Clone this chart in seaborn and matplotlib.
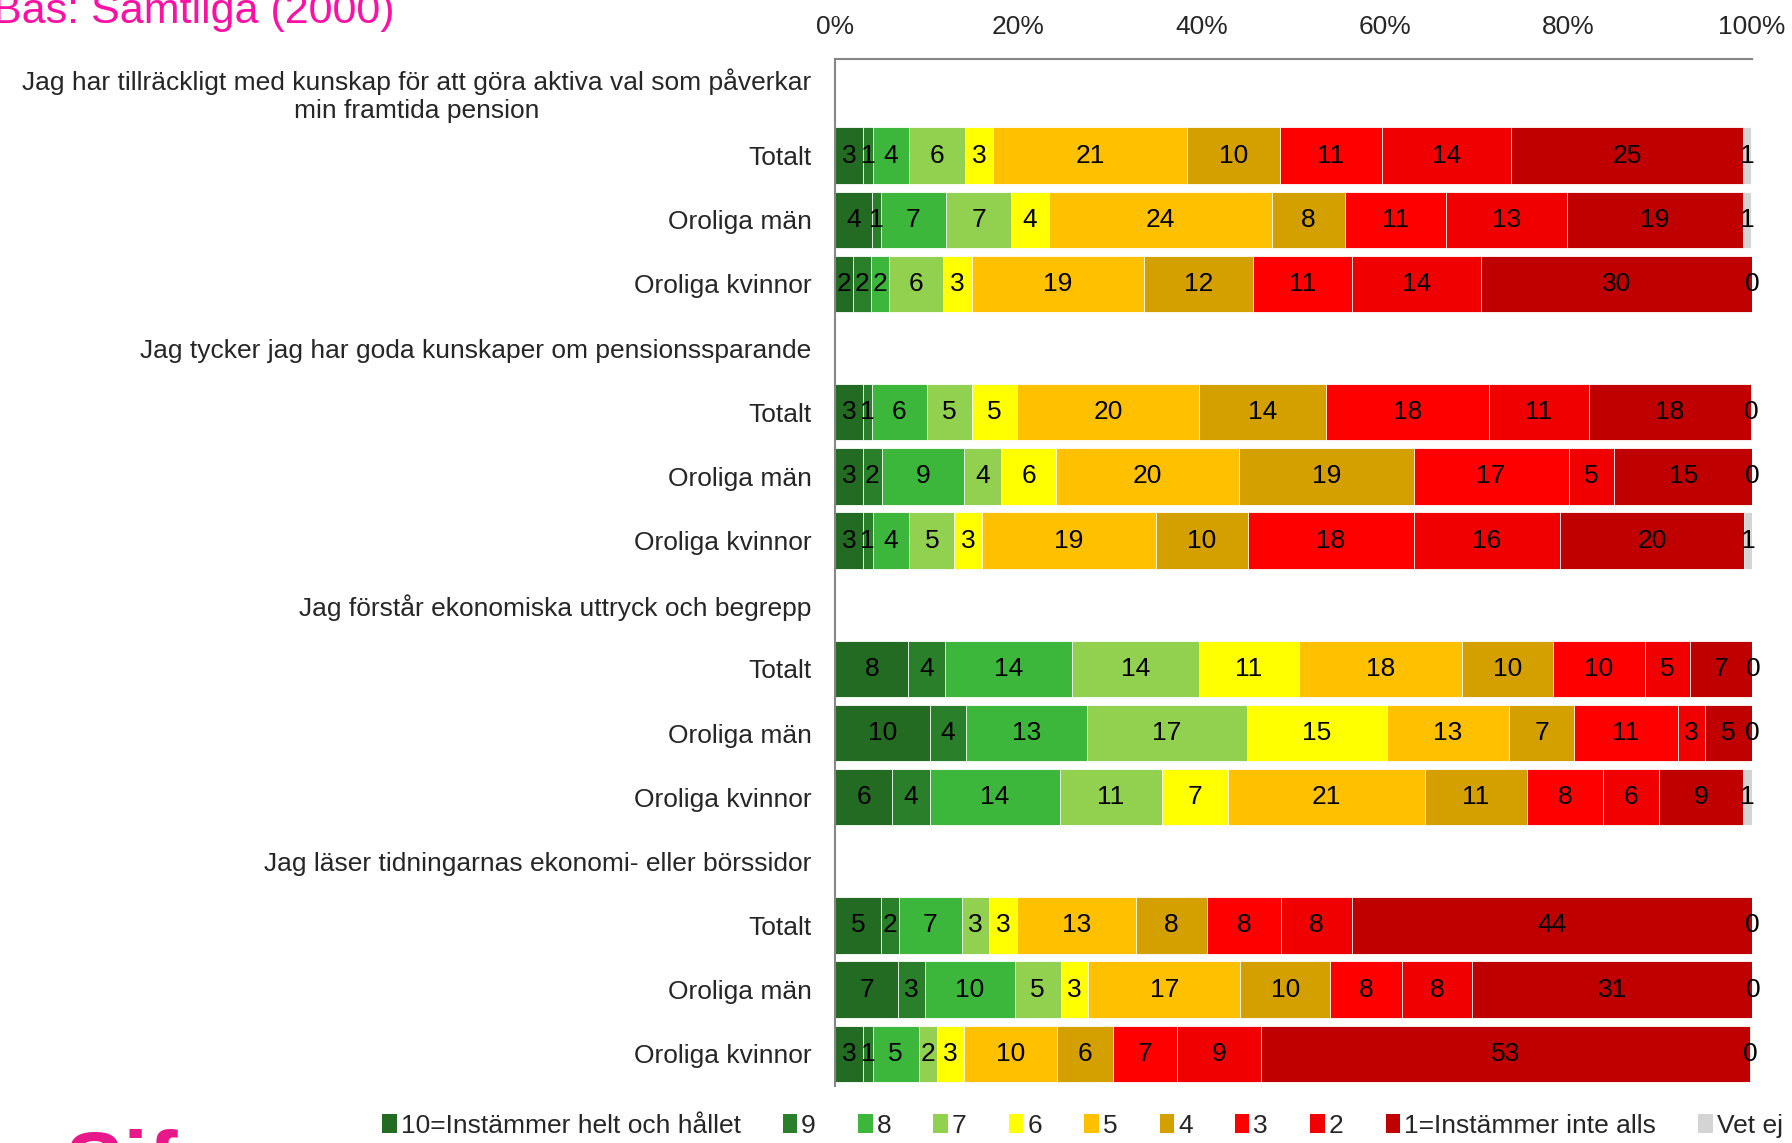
import matplotlib.pyplot as plt
import seaborn as sns
import pandas as pd
import numpy as np
from matplotlib.patches import Patch
from matplotlib.ticker import FixedLocator

fragor = [
    "Jag har tillräckligt med kunskap för att göra aktiva val som påverkar\nmin framtida pension",
    "Jag tycker jag har goda kunskaper om pensionssparande",
    "Jag förstår ekonomiska uttryck och begrepp",
    "Jag läser tidningarnas ekonomi- eller börssidor",
]
grupper = ["Totalt", "Oroliga män", "Oroliga kvinnor"]

svar = ["10=Instämmer helt och hållet", "9", "8", "7", "6", "5", "4", "3", "2",
        "1=Instämmer inte alls", "Vet ej"]
farger = ["#236B23", "#2A7F2A", "#3CB73C", "#92D050", "#FFFF00", "#FFC000",
          "#D3A000", "#FF0000", "#F00000", "#C00000", "#D4D4D4"]

# andelar i procent, en rad per fråga/grupp (12 staplar uppifrån och ned)
v10 = [3.1, 4.0, 2.0, 3.0, 3.0, 3.0, 8.0, 10.3, 6.2, 5.0, 6.9, 3.1]
v9 = [1.0, 1.0, 1.9, 1.0, 2.1, 1.1, 4.0, 4.0, 4.1, 2.0, 2.9, 1.0]
v8 = [4.0, 7.1, 2.0, 6.0, 9.0, 4.0, 13.8, 13.2, 14.2, 6.8, 9.8, 5.0]
v7 = [6.1, 7.1, 5.9, 4.9, 4.0, 4.9, 13.9, 17.4, 11.2, 3.0, 5.0, 2.0]
v6 = [3.0, 4.1, 3.1, 4.9, 6.0, 3.0, 10.9, 15.3, 7.2, 3.0, 3.0, 3.0]
v5 = [21.2, 24.3, 18.8, 19.9, 20.0, 19.0, 17.8, 13.3, 21.4, 13.0, 16.6, 10.1]
v4 = [10.1, 8.0, 11.9, 13.8, 19.0, 10.0, 9.9, 7.1, 11.2, 7.8, 9.8, 6.1]
v3 = [11.1, 11.0, 10.8, 17.8, 16.9, 18.1, 10.0, 11.3, 8.2, 8.0, 7.8, 7.0]
v2 = [14.1, 13.2, 14.0, 10.9, 5.0, 16.0, 4.9, 3.0, 6.1, 7.8, 7.7, 9.1]
v1 = [25.3, 19.2, 29.6, 17.7, 15.0, 20.0, 6.9, 5.1, 9.2, 43.6, 30.6, 53.4]
vet_ej = [0.9, 0.9, 0.0, 0.0, 0.0, 0.9, 0.0, 0.0, 1.0, 0.0, 0.0, 0.0]

varden = [v10, v9, v8, v7, v6, v5, v4, v3, v2, v1, vet_ej]

# radordning: rubrikrad + tre grupper per fråga
order, etiketter, stapelrader = [], [], []
for q, fraga in enumerate(fragor):
    order.append(f"q{q}")
    etiketter.append(fraga)
    for g in grupper:
        order.append(f"q{q}_{g}")
        etiketter.append(g)
        stapelrader.append(f"q{q}_{g}")

rows = []
for s, vals in zip(svar, varden):
    for rad, v in zip(stapelrader, vals):
        rows.append({"rad": rad, "svar": s, "andel": v})
df = pd.DataFrame(rows)
df["svar"] = pd.Categorical(df["svar"], categories=svar, ordered=True)
df = df.sort_values(["rad", "svar"])
df["kum"] = df.groupby("rad")["andel"].cumsum()

sns.set_style("white")
plt.rcParams["font.family"] = ["Liberation Sans", "DejaVu Sans"]

fig = plt.figure(figsize=(17.92, 11.43), dpi=100)
ax = fig.add_axes([0.466, 0.05, 0.5117, 0.898])

for i in reversed(range(len(svar))):
    sub = df[df["svar"] == svar[i]]
    sns.barplot(data=sub, x="kum", y="rad", order=order, orient="h",
                color=farger[i], saturation=1, width=0.88, errorbar=None,
                edgecolor="white", linewidth=0.6, ax=ax)

for _, r in df.iterrows():
    ax.text(r["kum"] - r["andel"] / 2, order.index(r["rad"]), f"{r['andel']:.0f}",
            ha="center", va="center", fontsize=19, color="black")

ax.set_xlim(0, 100)
ax.set_ylim(len(order) - 0.5, -0.5)
ax.xaxis.tick_top()
ax.set_xticks(range(0, 101, 20))
ax.set_xticklabels([f"{t}%" for t in range(0, 101, 20)], fontsize=19)
ax.tick_params(axis="x", length=8, width=1.2, color="#868686", pad=6.5, direction="out")
ax.set_xlabel("")
ax.set_ylabel("")

ax.set_yticks(range(len(order)))
ax.set_yticklabels(etiketter, fontsize=19)
for lbl in ax.get_yticklabels():
    lbl.set_multialignment("center")
ax.tick_params(axis="y", which="major", length=0, pad=17)
ax.yaxis.set_minor_locator(FixedLocator(np.arange(-0.5, len(order), 1)))
ax.tick_params(axis="y", which="minor", length=6, width=1.2, color="#868686")

sns.despine(ax=ax, top=False, right=True, left=False, bottom=True)
for side in ["top", "left"]:
    ax.spines[side].set_color("#868686")
    ax.spines[side].set_linewidth(1.5)

fig.text(-0.004, 0.980, "Bas: Samtliga (2000)", color="#FF10A5", fontsize=31,
         ha="left", va="baseline")
fig.text(0.036, 0.012, "Sif", color="#E8178A", fontsize=64, fontweight="bold",
         ha="left", va="top")

handles = [Patch(facecolor=c, edgecolor="none") for c in farger]
fig.legend(handles, svar, loc="center", bbox_to_anchor=(0.604, 0.015), ncol=11,
           frameon=False, fontsize=19, handlelength=0.55, handleheight=0.7,
           handletextpad=0.15, columnspacing=1.6, borderpad=0)

fig.savefig("out.png", dpi=100)
